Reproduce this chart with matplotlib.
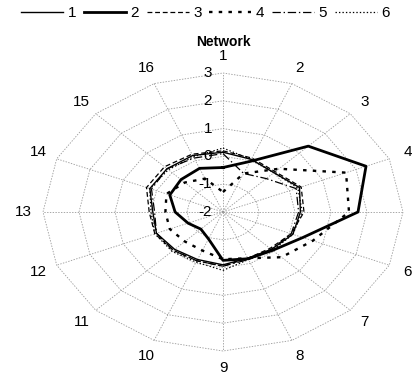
import numpy as np
import matplotlib
matplotlib.use("Agg")
import matplotlib.pyplot as plt

plt.rcParams['font.family'] = ['Liberation Sans', 'DejaVu Sans']
plt.rcParams['lines.scale_dashes'] = False

axes_labels = [str(i) for i in range(1, 17)]
ring_values = [-2, -1, 0, 1, 2, 3]
series_names = ['1', '2', '3', '4', '5', '6']

s1 = [0.15, 0.05, 0.0, 0.3, 0.15, 0.1, -0.1, -0.2, -0.1, -0.15, -0.1, 0.0, -0.05, 0.2, 0.2, 0.2]
s2 = [-0.4, -0.03, 1.35, 2.3, 1.75, 0.4, -0.05, -0.18, -0.26, -0.95, -1.13, -0.95, -0.67, -0.4, -0.35, -0.3]
s3 = [0.2, 0.1, 0.05, 0.35, 0.25, 0.05, -0.15, -0.2, -0.05, -0.1, -0.05, 0.05, 0.05, 0.3, 0.3, 0.25]
s4 = [-1.28, -0.5, 0.2, 1.7, 1.5, 0.7, 0.3, -0.2, -0.3, -0.5, -0.5, -0.4, -0.4, -0.3, -0.5, -0.7]
s5 = [0.1, -0.5, -0.3, 0.2, 0.1, 0.05, -0.1, -0.15, -0.05, -0.1, -0.05, 0.0, -0.1, 0.15, 0.2, 0.1]
s6 = [0.3, 0.05, 0.0, 0.25, 0.2, 0.1, -0.05, -0.15, 0.1, -0.05, 0.0, 0.05, 0.0, 0.2, 0.15, 0.15]

vmin, vmax = -2, 3
n = len(axes_labels)
ang = np.arange(n) * 2 * np.pi / n   # clockwise from the top


def xy(vals):
    r = np.asarray(vals, dtype=float) - vmin
    r = np.append(r, r[0])
    a = np.append(ang, ang[0])
    return r * np.sin(a), r * np.cos(a)


fig = plt.figure(figsize=(4.15, 3.79), dpi=100)
ax = fig.add_axes([0, 0, 1, 1])
ax.set_xlim(-223 / 36, (415 - 223) / 36)
ax.set_ylim(-167 / 27.8, 212 / 27.8)
ax.axis('off')

# polygon grid and spokes
R = vmax - vmin
for v in ring_values[1:]:
    gx, gy = xy([v] * n)
    ax.plot(gx, gy, color='0.6', lw=0.6, ls=(0, (1, 1)), zorder=1)
for a in ang:
    ax.plot([0, R * np.sin(a)], [0, R * np.cos(a)], color='0.6', lw=0.6,
            ls=(0, (1, 1)), zorder=1)

for v in ring_values:
    ax.text(-0.3, v - vmin, str(v), ha='right', va='center', fontsize=11, zorder=3)

for lab, a in zip(axes_labels, ang):
    ax.text(1.11 * R * np.sin(a), 1.12 * R * np.cos(a), lab,
            ha='center', va='center', fontsize=11)

styles = [
    dict(lw=1.0, ls='-'),
    dict(lw=2.0, ls='-'),
    dict(lw=0.9, ls=(0, (3.5, 2))),
    dict(lw=1.7, ls=(0, (2.5, 4.5))),
    dict(lw=0.9, ls=(0, (6, 2, 1, 2))),
    dict(lw=0.9, ls=(0, (1, 1.5))),
]
for name, vals, st in zip(series_names, [s1, s2, s3, s4, s5, s6], styles):
    px, py = xy(vals)
    ax.plot(px, py, color='black', label=name, zorder=2, **st)

ax.text(0, 6.1, 'Network', ha='center', va='center', fontsize=10, fontweight='bold')

ax.legend(loc='upper center', bbox_to_anchor=(0.495, 1.02), ncol=6, frameon=False,
          fontsize=11, handlelength=2.75, handletextpad=0.3, columnspacing=0.5)

fig.savefig('out.png', dpi=100)
